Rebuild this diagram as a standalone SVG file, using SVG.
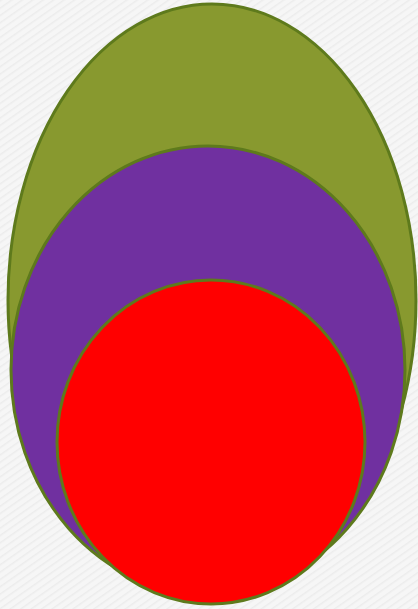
<svg xmlns="http://www.w3.org/2000/svg" width="418" height="609" viewBox="0 0 418 609">
<defs>
<pattern id="tex" width="6" height="6" patternUnits="userSpaceOnUse" patternTransform="rotate(-35)">
<rect width="6" height="6" fill="#f6f6f6"/>
<rect width="6" height="1.5" fill="#ececec"/>
</pattern>
</defs>
<style>
.e{stroke:#5e7a1c;stroke-width:3}
</style>
<rect width="418" height="609" fill="url(#tex)"/>
<g id="outer"><ellipse class="e" cx="212" cy="300" rx="204" ry="296" fill="#88992f"/></g>
<g id="middle"><ellipse class="e" cx="208" cy="370" rx="197" ry="224" fill="#7030a0"/></g>
<g id="inner"><ellipse class="e" cx="211" cy="442" rx="154" ry="162" fill="#ff0000"/></g>
<g id="connectors"/>
</svg>
